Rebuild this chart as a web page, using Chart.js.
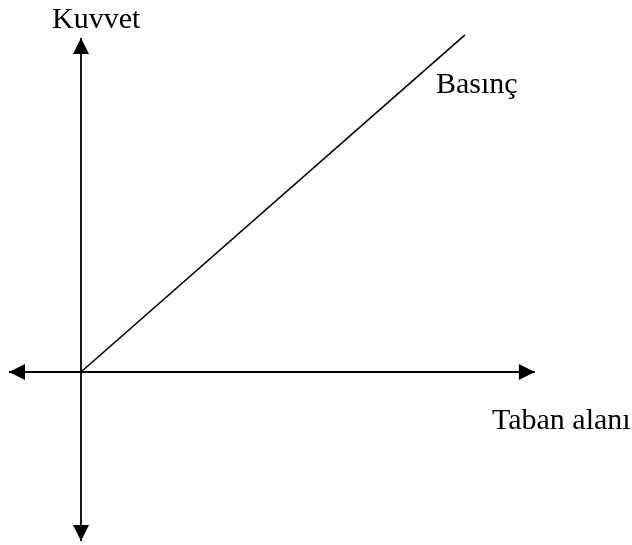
<!DOCTYPE html>
<html>
<head>
<meta charset="utf-8">
<script src="https://cdn.jsdelivr.net/npm/chart.js@4"></script>
<style>
  html, body { margin: 0; padding: 0; background: #fff; }
</style>
</head>
<body>
<canvas id="chart" width="632" height="545"></canvas>
<script>
// axis extents (data units) and the one line: Basınç = Kuvvet / Taban alanı
const xAxisEnds = [-1.875, 11.82];
const yAxisEnds = [-4.4, 8.7];
const tabanAlani = [0, 10];
const kuvvet = [0, 8.78];

const labels = [
  { text: "Kuvvet", x: 52, y: 28 },
  { text: "Basınç", x: 436, y: 93 },
  { text: "Taban alanı", x: 492, y: 429 }
];

function toPoints(xs, ys) {
  return xs.map((x, i) => ({ x: x, y: ys[i] }));
}

// arrow heads on both ends of the axis lines
const arrowPlugin = {
  id: "arrows",
  afterDatasetsDraw(chart) {
    const ctx = chart.ctx;
    chart.data.datasets.forEach((ds, i) => {
      if (!ds.arrows) return;
      const pts = chart.getDatasetMeta(i).data;
      const a = pts[0], b = pts[pts.length - 1];
      [[a, b], [b, a]].forEach(([tip, from]) => {
        const ang = Math.atan2(tip.y - from.y, tip.x - from.x);
        const len = 16, half = 8;
        ctx.save();
        ctx.translate(tip.x, tip.y);
        ctx.rotate(ang);
        ctx.beginPath();
        ctx.moveTo(0, 0);
        ctx.lineTo(-len, -half);
        ctx.lineTo(-len, half);
        ctx.closePath();
        ctx.fillStyle = "#000";
        ctx.fill();
        ctx.restore();
      });
    });
  }
};

const textPlugin = {
  id: "texts",
  afterDraw(chart) {
    const ctx = chart.ctx;
    ctx.save();
    ctx.fillStyle = "#000";
    ctx.font = "30px 'Liberation Serif', 'Times New Roman', serif";
    ctx.textBaseline = "alphabetic";
    labels.forEach(l => ctx.fillText(l.text, l.x, l.y));
    ctx.restore();
  }
};

new Chart(document.getElementById("chart"), {
  type: "scatter",
  data: {
    datasets: [
      { data: toPoints(xAxisEnds, [0, 0]), arrows: true, borderWidth: 1.8 },
      { data: toPoints([0, 0], yAxisEnds), arrows: true, borderWidth: 1.8 },
      { data: toPoints(tabanAlani, kuvvet) }
    ].map(ds => Object.assign({
      showLine: true,
      borderColor: "#000",
      borderWidth: 1.6,
      pointRadius: 0,
      pointHoverRadius: 0
    }, ds))
  },
  options: {
    responsive: false,
    animation: false,
    layout: { padding: 0 },
    plugins: { legend: { display: false }, tooltip: { enabled: false } },
    scales: {
      x: { type: "linear", display: false, min: -2.109, max: 14.349 },
      y: { type: "linear", display: false, min: -4.505, max: 9.6875 }
    }
  },
  plugins: [arrowPlugin, textPlugin]
});
</script>
</body>
</html>
